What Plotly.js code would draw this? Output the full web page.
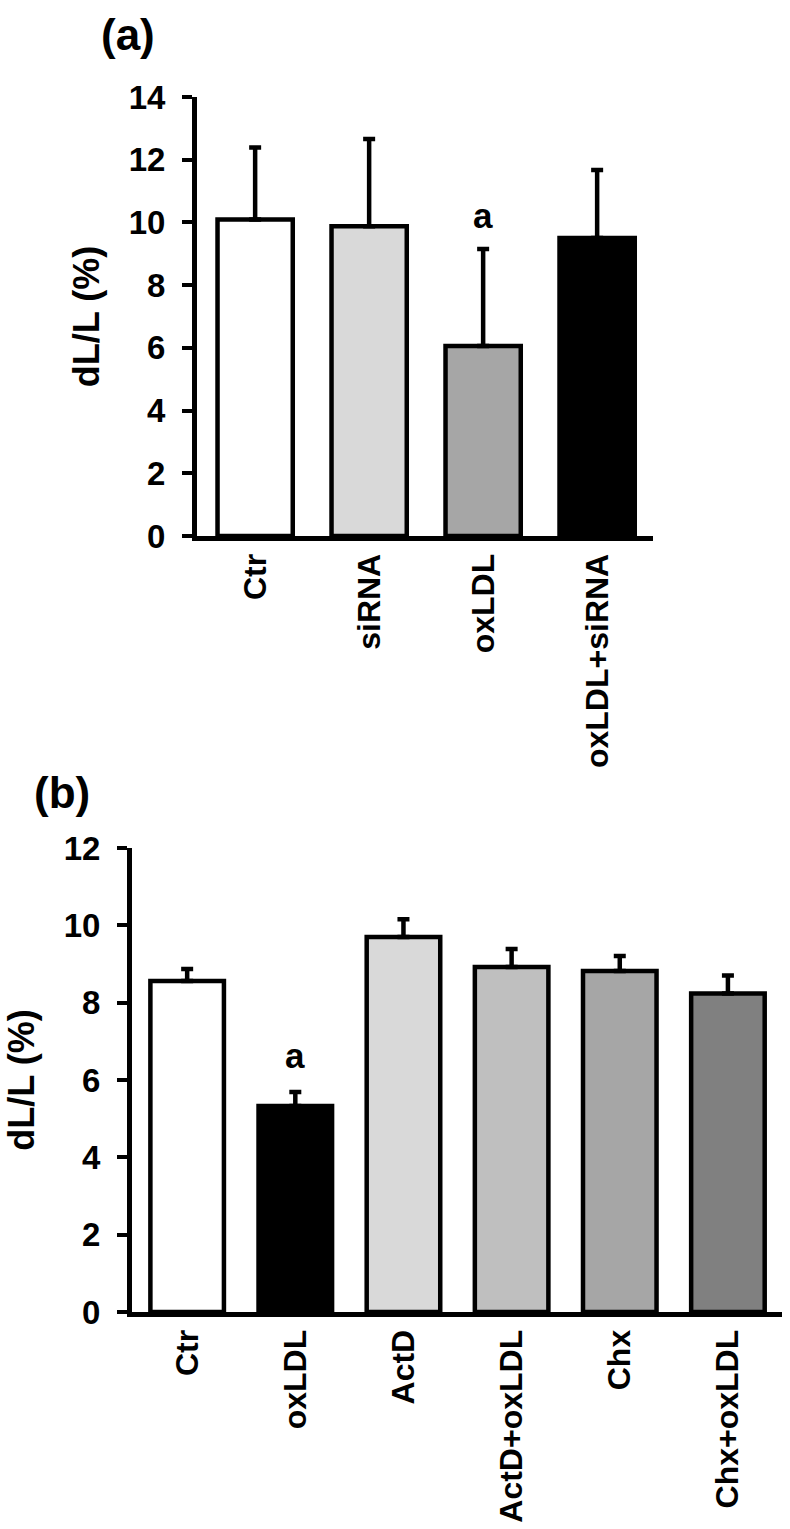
<!DOCTYPE html>
<html>
<head>
<meta charset="utf-8">
<script src="https://cdn.plot.ly/plotly-3.0.1.min.js"></script>
<style>html,body{margin:0;padding:0;background:#fff;}#chart{width:790px;height:1529px;}</style>
</head>
<body>
<div id="chart"></div>
<script>
// Panel (a)
const catsA = ["Ctr", "siRNA", "oxLDL", "oxLDL+siRNA"];
const valsA = [10.09, 9.88, 6.06, 9.50];
const errsA = [2.30, 2.78, 3.09, 2.17];
const colorsA = ["#ffffff", "#d9d9d9", "#a6a6a6", "#000000"];
const sigA = ["", "", "a", ""];

// Panel (b)
const catsB = ["Ctr", "oxLDL", "ActD", "ActD+oxLDL", "Chx", "Chx+oxLDL"];
const valsB = [8.56, 5.33, 9.70, 8.92, 8.82, 8.24];
const errsB = [0.31, 0.36, 0.46, 0.47, 0.39, 0.46];
const colorsB = ["#ffffff", "#000000", "#d9d9d9", "#bfbfbf", "#a6a6a6", "#808080"];
const sigB = ["", "a", "", "", "", ""];

const yTicksA = [0, 2, 4, 6, 8, 10, 12, 14];
const yTicksB = [0, 2, 4, 6, 8, 10, 12];
const yTitle = "dL/L (%)";

const FONT = "Liberation Sans, Arial, Helvetica, sans-serif";
const bold = (size) => ({family: FONT, size: size, color: "#000", weight: "bold"});

function barTrace(cats, vals, errs, colors, width, xa, ya) {
  return {
    type: "bar",
    x: cats, y: vals,
    xaxis: xa, yaxis: ya,
    width: width,
    marker: {color: colors, line: {color: "#000", width: 4.5}},
    error_y: {type: "data", symmetric: false, array: errs, arrayminus: errs.map(() => 0),
              color: "#000", thickness: 4.5, width: 6, visible: true},
    showlegend: false, hoverinfo: "skip"
  };
}

const data = [
  barTrace(catsA, valsA, errsA, colorsA, 0.66, "x", "y"),
  barTrace(catsB, valsB, errsB, colorsB, 0.68, "x2", "y2")
];

const annotations = [];
sigA.forEach((s, i) => { if (s) annotations.push({xref: "x", yref: "y", x: catsA[i], y: valsA[i] + errsA[i],
  text: s, showarrow: false, yanchor: "middle", yshift: 34, font: bold(35)}); });
sigB.forEach((s, i) => { if (s) annotations.push({xref: "x2", yref: "y2", x: catsB[i], y: valsB[i] + errsB[i],
  text: s, showarrow: false, yanchor: "middle", yshift: 36, font: bold(35)}); });
annotations.push({xref: "paper", yref: "paper", x: 128/790, y: 1 - 35/1529, text: "(a)", showarrow: false,
  xanchor: "center", yanchor: "middle", font: bold(44)});
annotations.push({xref: "paper", yref: "paper", x: 62/790, y: 1 - 792/1529, text: "(b)", showarrow: false,
  xanchor: "center", yanchor: "middle", font: bold(44)});

const xCommon = {
  type: "category", showline: true, linewidth: 5, linecolor: "#000", ticks: "", showgrid: false,
  zeroline: false, tickangle: -90, tickfont: bold(32), ticklen: 0, automargin: false
};
const yCommon = {
  showline: true, linewidth: 5, linecolor: "#000", ticks: "outside", ticklen: 10, tickwidth: 4,
  tickcolor: "#000", showgrid: false, zeroline: false, tickfont: bold(33), automargin: false,
  ticklabelstandoff: 10
};

const layout = {
  width: 790, height: 1529,
  margin: {l: 0, r: 0, t: 0, b: 0},
  paper_bgcolor: "#fff", plot_bgcolor: "#fff",
  bargap: 0.3,
  xaxis: Object.assign({}, xCommon, {domain: [197/790, 653/790], range: [-0.51, 3.49], anchor: "y"}),
  yaxis: Object.assign({}, yCommon, {domain: [1 - 536/1529, 1 - 97/1529], range: [0, 14], tickvals: yTicksA,
    anchor: "x", title: {text: yTitle, font: bold(36), standoff: 20}}),
  xaxis2: Object.assign({}, xCommon, {domain: [132/790, 782/790], range: [-0.51, 5.5], anchor: "y2"}),
  yaxis2: Object.assign({}, yCommon, {domain: [1 - 1312/1529, 1 - 848/1529], range: [0, 12], tickvals: yTicksB,
    anchor: "x2", title: {text: yTitle, font: bold(36), standoff: 20}}),
  annotations: annotations
};

Plotly.newPlot("chart", data, layout, {staticPlot: true, displayModeBar: false});
</script>
</body>
</html>
